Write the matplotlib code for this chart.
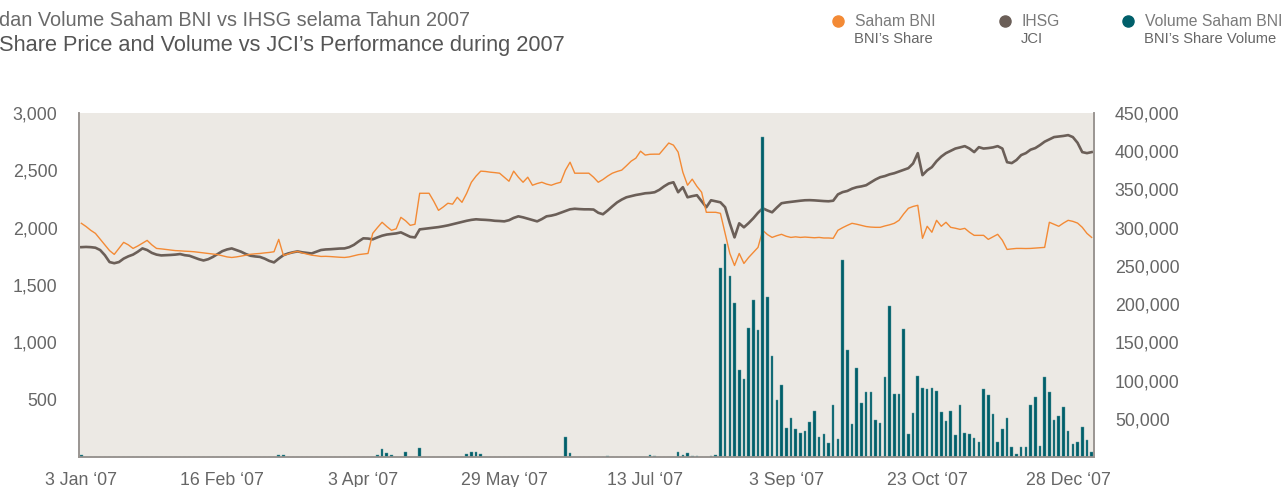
import matplotlib

matplotlib.use("Agg")
import matplotlib.pyplot as plt
import numpy as np
from matplotlib.lines import Line2D
from matplotlib.ticker import FuncFormatter

W, H = 1282, 487

# ---------------- data ---------------- #
tick_pos = [0, 30, 60, 90, 120, 150, 180, 210]
tick_labels = ["3 Jan \u201807", "16 Feb \u201807", "3 Apr \u201807", "29 May \u201807",
               "13 Jul \u201807", "3 Sep \u201807", "23 Oct \u201807", "28 Dec \u201807"]

ihsg = [
    1830, 1832, 1830, 1825, 1805, 1760, 1700, 1690, 1700, 1730,
    1750, 1765, 1790, 1819, 1805, 1780, 1765, 1758, 1760, 1762,
    1765, 1770, 1760, 1755, 1740, 1725, 1714, 1725, 1745, 1770,
    1795, 1810, 1819, 1805, 1790, 1770, 1755, 1749, 1745, 1730,
    1710, 1697, 1730, 1760, 1775, 1785, 1793, 1785, 1780, 1775,
    1790, 1805, 1810, 1812, 1815, 1818, 1819, 1830, 1850, 1880,
    1907, 1905, 1898, 1915, 1930, 1940, 1945, 1950, 1959, 1940,
    1920, 1915, 1985, 1990, 1995, 2000, 2005, 2012, 2020, 2030,
    2040, 2050, 2060, 2068, 2073, 2070, 2068, 2065, 2060, 2058,
    2055, 2065, 2085, 2099, 2090, 2078, 2065, 2055, 2075, 2099,
    2105, 2115, 2130, 2145, 2160, 2165, 2162, 2160, 2160, 2158,
    2130, 2117, 2150, 2186, 2220, 2245, 2265, 2275, 2285, 2292,
    2300, 2303, 2309, 2330, 2360, 2385, 2396, 2309, 2353, 2265,
    2275, 2283, 2230, 2178, 2239, 2230, 2221, 2178, 2038, 1915,
    2038, 2003, 2040, 2082, 2130, 2169, 2150, 2134, 2175, 2213,
    2220, 2225, 2230, 2235, 2239, 2240, 2238, 2235, 2232, 2230,
    2235, 2290, 2310, 2320, 2340, 2353, 2360, 2370, 2395, 2420,
    2440, 2450, 2465, 2475, 2490, 2505, 2519, 2560, 2650, 2458,
    2500, 2528, 2580, 2620, 2650, 2670, 2690, 2700, 2711, 2690,
    2659, 2702, 2690, 2694, 2700, 2711, 2690, 2571, 2563, 2590,
    2633, 2650, 2680, 2694, 2720, 2750, 2770, 2790, 2795, 2800,
    2807, 2790, 2740, 2659, 2650, 2659,
]

bni = [
    2038, 2010, 1977, 1950, 1900, 1850, 1800, 1767, 1820, 1872,
    1850, 1819, 1840, 1865, 1889, 1850, 1819, 1815, 1810, 1805,
    1800, 1798, 1795, 1793, 1790, 1785, 1780, 1775, 1770, 1765,
    1755, 1745, 1740, 1745, 1752, 1760, 1768, 1772, 1775, 1780,
    1784, 1790, 1898, 1758, 1770, 1785, 1793, 1780, 1770, 1760,
    1755, 1749, 1750, 1748, 1745, 1742, 1740, 1745, 1755, 1765,
    1770, 1775, 1950, 2000, 2047, 2010, 1977, 1990, 2090, 2060,
    2020, 2030, 2300, 2300, 2300, 2230, 2151, 2180, 2213, 2205,
    2265, 2221, 2300, 2396, 2450, 2493, 2490, 2484, 2480, 2475,
    2440, 2405, 2493, 2440, 2396, 2440, 2370, 2385, 2396, 2380,
    2370, 2385, 2396, 2500, 2571, 2475, 2475, 2475, 2475, 2440,
    2396, 2420, 2450, 2475, 2490, 2502, 2540, 2580, 2606, 2667,
    2633, 2640, 2641, 2641, 2690, 2738, 2720, 2659, 2484, 2370,
    2423, 2360, 2309, 2134, 2134, 2134, 2125, 1950, 1775, 1670,
    1775, 1688, 1740, 1784, 1828, 1977, 1940, 1915, 1930, 1942,
    1925, 1915, 1920, 1915, 1918, 1915, 1912, 1915, 1910, 1910,
    1907, 1977, 2000, 2020, 2038, 2030, 2020, 2010, 2005, 2003,
    2003, 2015, 2025, 2038, 2064, 2120, 2169, 2185, 2195, 1907,
    2012, 1960, 2064, 2012, 2047, 2003, 1995, 1985, 1994, 1960,
    1933, 1933, 1933, 1898, 1920, 1942, 1890, 1810, 1815, 1819,
    1819, 1818, 1819, 1822, 1825, 1828, 2047, 2030, 2012, 2040,
    2064, 2055, 2040, 2003, 1950, 1915,
]

volume = [
    3000, 0, 0, 0, 0, 0, 0, 0, 0, 0,
    0, 0, 0, 0, 0, 0, 0, 0, 0, 0,
    0, 0, 0, 0, 0, 0, 0, 0, 0, 0,
    0, 0, 0, 0, 0, 0, 0, 0, 0, 0,
    0, 0, 3000, 2500, 0, 0, 0, 0, 0, 0,
    0, 0, 0, 0, 0, 0, 0, 0, 0, 0,
    0, 0, 0, 2000, 10000, 5000, 3000, 0, 0, 6000,
    0, 0, 12000, 0, 0, 0, 0, 0, 0, 0,
    0, 0, 4000, 6000, 6000, 4000, 0, 0, 0, 0,
    0, 0, 0, 0, 0, 0, 0, 0, 0, 0,
    0, 0, 0, 26000, 5000, 0, 0, 0, 0, 0,
    0, 0, 1500, 0, 0, 0, 0, 0, 0, 0,
    0, 2000, 1500, 0, 0, 0, 0, 6000, 2000, 5000,
    1500, 1000, 0, 0, 1500, 2500, 246600, 278000, 236600, 201000,
    114000, 102000, 169000, 205600, 166000, 419000, 209500, 132000, 74800, 94500,
    38500, 51000, 36700, 31000, 34000, 45500, 60800, 25800, 29700, 18800,
    67800, 24000, 258000, 140000, 42900, 116800, 70400, 84400, 84400, 48000,
    44000, 104500, 198000, 81800, 81800, 167500, 30000, 58000, 105800, 90500,
    89000, 90500, 86000, 59500, 46800, 60800, 28400, 67800, 31000, 29700,
    25400, 19700, 88800, 80500, 56400, 20000, 37000, 50700, 13000, 4400,
    13000, 13000, 67800, 78700, 14400, 104000, 84900, 48000, 53800, 66000,
    33700, 16600, 19700, 39400, 22700, 6200,
]

ORANGE = "#F38A35"
BROWN = "#6B5F58"
TEAL = "#005F6A"
TEXT = "#666666"
BG = "#ECE9E4"
FONT = "Liberation Sans"


def px(x, y):
    """pixel position -> figure fraction"""
    return x / W, 1 - y / H


fig = plt.figure(figsize=(W / 100, H / 100), dpi=100)
ax = fig.add_axes([79 / W, 1 - 457 / H, (1094 - 79) / W, (457 - 113) / H])
ax2 = ax.twinx()

x = np.arange(len(bni))
ax.set_facecolor(BG)
ax.plot(x, bni, color=ORANGE, lw=1.0, zorder=3)
ax.plot(x, ihsg, color=BROWN, lw=1.9, zorder=2)
ax2.bar(x, volume, width=0.55, color=TEAL, edgecolor="#5f9aa0", linewidth=0.3)

ax.set_xlim(-0.5, len(bni) - 0.5)
ax.set_ylim(0, 3000)
ax2.set_ylim(0, 450000)

ax.set_yticks([500, 1000, 1500, 2000, 2500, 3000])
ax2.set_yticks(np.arange(50000, 450001, 50000))
ax.yaxis.set_major_formatter(FuncFormatter(lambda v, p: f"{int(v):,}"))
ax2.yaxis.set_major_formatter(FuncFormatter(lambda v, p: f"{int(v):,}"))
ax.set_xticks(tick_pos)
ax.set_xticklabels(tick_labels)

for a in (ax, ax2):
    a.tick_params(length=0, labelsize=12.8, labelcolor=TEXT)
    for lab in a.get_xticklabels() + a.get_yticklabels():
        lab.set_family(FONT)
    for s in a.spines.values():
        s.set_color("#9a9591")
        s.set_linewidth(1.2)
    a.spines["top"].set_visible(False)
# pads are in points (1 pt = 1.39 px here)
ax.tick_params(axis="y", pad=15.5)
ax.tick_params(axis="x", pad=10.5)
ax2.tick_params(axis="y", pad=15)

# title, cut off at the left edge as in the source layout
fig.text(*px(-1, 21), "dan Volume Saham BNI vs IHSG selama Tahun 2007", fontsize=14.3,
         color="#6a6a6a", family=FONT, va="center", ha="left")
fig.text(*px(-1, 46), "Share Price and Volume vs JCI\u2019s Performance during 2007",
         fontsize=15.7, color="#555555", family=FONT, va="center", ha="left")

# legend
legend_items = [
    (838, ORANGE, "Saham BNI", "BNI\u2019s Share"),
    (1005, BROWN, "IHSG", "JCI"),
    (1128, TEAL, "Volume Saham BNI", "BNI\u2019s Share Volume"),
]
for lx, col, l1, l2 in legend_items:
    fig.add_artist(Line2D([lx / W], [1 - 21 / H], marker="o", markersize=8,
                          color=col, transform=fig.transFigure))
    fig.text(*px(lx + 17, 21), l1, fontsize=11.3, color="#7a7a7a", family=FONT,
             va="center", ha="left")
    fig.text(*px(lx + 16, 39), l2, fontsize=10.6, color="#666666", family=FONT,
             va="center", ha="left")

fig.savefig("out.png", dpi=100, facecolor="white")
